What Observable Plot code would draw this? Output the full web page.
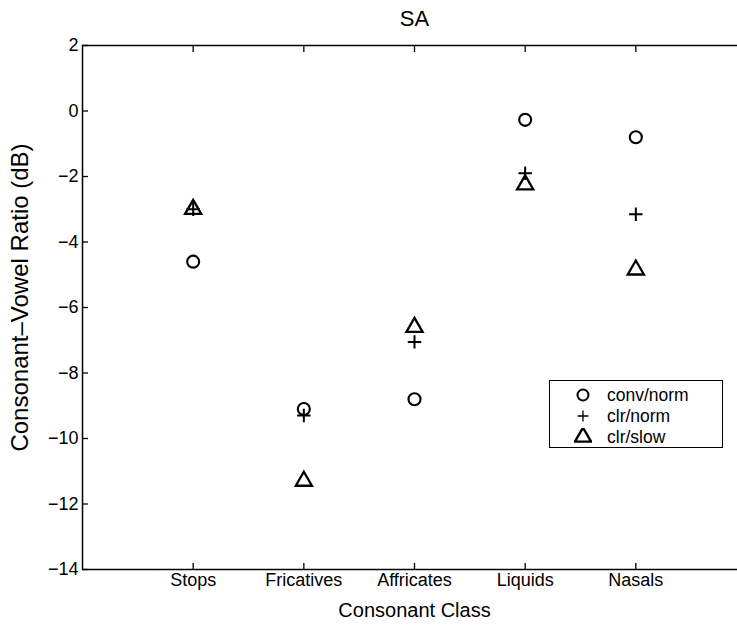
<!DOCTYPE html>
<html>
<head>
<meta charset="utf-8">
<script src="https://cdn.jsdelivr.net/npm/d3@7"></script>
<script src="https://cdn.jsdelivr.net/npm/@observablehq/plot@0.6"></script>
<style>
  html, body { margin: 0; padding: 0; background: white; overflow: hidden; }
  #wrap { position: relative; width: 737px; height: 627px; }
  #legend { position: absolute; left: 549px; top: 380px; width: 174px; height: 68px; border: 1.5px solid black; background: white; box-sizing: border-box; }
  .row { position: absolute; left: 0; height: 20px; display: flex; align-items: center; font-family: "Liberation Sans", Arial, sans-serif; font-size: 17.5px; color: black; }
  .row svg { display: block; margin-left: 24px; margin-right: 15px; }
</style>
</head>
<body>
<div id="wrap"></div>
<script>
const categories = ["Stops", "Fricatives", "Affricates", "Liquids", "Nasals"];
const seriesNames = ["conv/norm", "clr/norm", "clr/slow"];
const convNorm = [-4.6, -9.1, -8.8, -0.27, -0.8];
const clrNorm  = [-3.0, -9.3, -7.05, -1.9, -3.15];
const clrSlow  = [-3.0, -11.3, -6.6, -2.25, -4.85];
const yTicks = [2, 0, -2, -4, -6, -8, -10, -12, -14];
const xTicks = [1, 2, 3, 4, 5];
const symbolNames = ["circle", "plus", "triangle"];

const seriesValues = [convNorm, clrNorm, clrSlow];
const rows = [];
seriesNames.forEach((s, si) => {
  categories.forEach((c, ci) => {
    rows.push({series: s, category: c, idx: ci + 1, value: seriesValues[si][ci]});
  });
});

const font = "'Liberation Sans', Arial, sans-serif";
const markerR = [6, 4.4, 6];
const markerW = [2.1, 2, 2.3];

const chart = Plot.plot({
  width: 737,
  height: 627,
  marginLeft: 82,
  marginRight: -9,
  marginTop: 45,
  marginBottom: 58,
  style: {fontFamily: font, background: "white", color: "black"},
  x: {type: "linear", domain: [0, 6]},
  y: {domain: [-14, 2]},
  marks: [
    Plot.frame({stroke: "black", strokeWidth: 1.5}),
    Plot.axisY({ticks: yTicks, tickSize: -6, tickPadding: 10, fontSize: 18, label: null, strokeWidth: 1.3}),
    Plot.axisX({ticks: xTicks, tickFormat: i => categories[i - 1], tickSize: -6, tickPadding: 10, fontSize: 18, label: null, strokeWidth: 1.3}),
    Plot.axisX({anchor: "top", ticks: xTicks, tickFormat: () => "", tickSize: -6, tickPadding: 0, label: null, strokeWidth: 1.3}),
    ...seriesNames.map((s, si) =>
      Plot.dot(rows, {filter: d => d.series === s, x: "idx", y: "value", symbol: symbolNames[si], r: markerR[si], stroke: "black", strokeWidth: markerW[si], fill: "none"})
    ),
    Plot.text(["SA"], {frameAnchor: "top", dy: -27, fontSize: 22, lineAnchor: "middle", textAnchor: "middle"}),
    Plot.text(["Consonant Class"], {frameAnchor: "bottom", dy: 41, fontSize: 20, lineAnchor: "middle", textAnchor: "middle"}),
    Plot.text(["Consonant\u2013Vowel Ratio (dB)"], {frameAnchor: "left", dx: -62, dy: -10, rotate: -90, fontSize: 24, lineAnchor: "middle", textAnchor: "middle"})
  ]
});
const wrap = document.getElementById("wrap");
wrap.appendChild(chart);

// legend
const legend = document.createElement("div");
legend.id = "legend";
const d3Symbols = [d3.symbolCircle, d3.symbolPlus, d3.symbolTriangle];
const legendR = [5.5, 3.6, 6];
const legendW = [2, 1.3, 2.4];
seriesNames.forEach((name, i) => {
  const row = document.createElement("div");
  row.className = "row";
  row.style.top = (4 + i * 21) + "px";
  const svg = d3.create("svg").attr("width", 18).attr("height", 18);
  svg.append("path")
    .attr("transform", "translate(9,9)")
    .attr("d", d3.symbol(d3Symbols[i], Math.PI * legendR[i] * legendR[i])())
    .attr("fill", "none").attr("stroke", "black").attr("stroke-width", legendW[i]);
  row.appendChild(svg.node());
  const t = document.createElement("span");
  t.textContent = name;
  row.appendChild(t);
  legend.appendChild(row);
});
wrap.appendChild(legend);
</script>
</body>
</html>
